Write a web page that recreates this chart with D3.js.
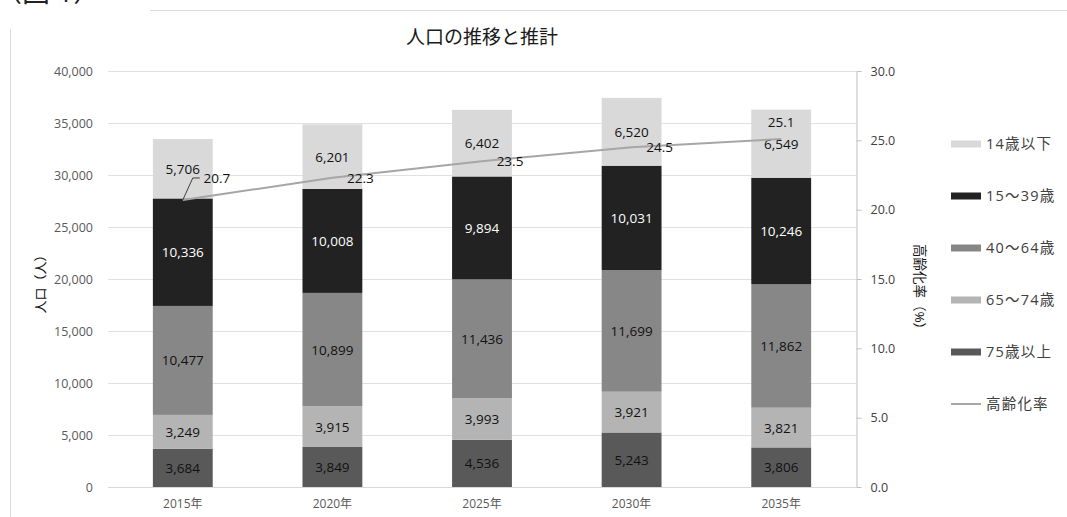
<!DOCTYPE html>
<html>
<head>
<meta charset="utf-8">
<script src="https://cdn.jsdelivr.net/npm/d3@7"></script>
<style>
  body { margin: 0; background: #fff; }
  svg text { font-family: "Open Sans", "Noto Sans CJK JP", sans-serif; }
</style>
</head>
<body>
<script>
// 人口の推移と推計 - stacked bars + 高齢化率 line
const years = ["2015年", "2020年", "2025年", "2030年", "2035年"];
const seriesNames = ["75歳以上", "65〜74歳", "40〜64歳", "15〜39歳", "14歳以下"];
const age75 = [3684, 3849, 4536, 5243, 3806];
const age65 = [3249, 3915, 3993, 3921, 3821];
const age40 = [10477, 10899, 11436, 11699, 11862];
const age15 = [10336, 10008, 9894, 10031, 10246];
const age0 = [5706, 6201, 6402, 6520, 6549];
const agingRate = [20.7, 22.3, 23.5, 24.5, 25.1];
const leftTicks = [0, 5000, 10000, 15000, 20000, 25000, 30000, 35000, 40000];
const rightTicks = [0, 5, 10, 15, 20, 25, 30];

const colors = ["#595959", "#b4b4b4", "#878787", "#222222", "#d9d9d9"];
const labelColors = ["#111", "#111", "#111", "#fff", "#111"];

const W = 1067, H = 517;
const svg = d3.select("body").append("svg").attr("width", W).attr("height", H);

// frame bits of the page around the chart
svg.append("text").attr("x", -6).attr("y", 2).attr("font-size", 28)
  .attr("font-family", "Noto Sans CJK JP").attr("fill", "#222").text("（図 1）");
svg.append("line").attr("x1", 150).attr("x2", W).attr("y1", 10.5).attr("y2", 10.5)
  .attr("stroke", "#d9d9d9");
svg.append("line").attr("x1", 10.5).attr("x2", 10.5).attr("y1", 29).attr("y2", H)
  .attr("stroke", "#d9d9d9");

const pLeft = 108, pRight = 856, pTop = 71, pBottom = 487;

const x = d3.scaleBand().domain(years).range([pLeft, pRight]).paddingInner(0.6).paddingOuter(0.3);
const y = d3.scaleLinear().domain([0, 40000]).range([pBottom, pTop]);
const y2 = d3.scaleLinear().domain([0, 30]).range([pBottom, pTop]);

// gridlines
svg.append("g").selectAll("line").data(leftTicks.slice(1)).enter().append("line")
  .attr("x1", pLeft).attr("x2", pRight)
  .attr("y1", d => Math.round(y(d)) + 0.5).attr("y2", d => Math.round(y(d)) + 0.5)
  .attr("stroke", "#e0e0e0");

// left axis
const gl = svg.append("g").attr("transform", `translate(${pLeft - 12},0)`)
  .call(d3.axisLeft(y).tickValues(leftTicks).tickFormat(d3.format(",")).tickSize(0));
gl.select(".domain").remove();
gl.selectAll("text").attr("font-size", 12.5).attr("fill", "#595959")
  .attr("font-family", "Open Sans");

// right axis
const gr = svg.append("g").attr("transform", `translate(${pRight + 0.5},0)`)
  .call(d3.axisRight(y2).tickValues(rightTicks).tickFormat(d3.format(".1f")).tickSize(5).tickSizeOuter(0));
gr.select(".domain").attr("stroke", "#bfbfbf");
gr.selectAll(".tick line").attr("stroke", "#bfbfbf");
gr.selectAll("text").attr("font-size", 12.5).attr("fill", "#404040")
  .attr("x", 14).attr("font-family", "Open Sans");

// stacked bars
const rows = years.map((yr, i) => ({
  year: yr, s0: age75[i], s1: age65[i], s2: age40[i], s3: age15[i], s4: age0[i]
}));
const stack = d3.stack().keys(["s0", "s1", "s2", "s3", "s4"])(rows);

const layers = svg.append("g").selectAll("g").data(stack).enter().append("g")
  .attr("fill", (d, i) => colors[i]);
layers.selectAll("rect").data(d => d).enter().append("rect")
  .attr("x", d => x(d.data.year))
  .attr("width", x.bandwidth())
  .attr("y", d => y(d[1]))
  .attr("height", d => y(d[0]) - y(d[1]));

layers.each(function(layer, li) {
  d3.select(this).selectAll("text").data(layer).enter().append("text")
    .attr("x", d => x(d.data.year) + x.bandwidth() / 2)
    .attr("y", d => (y(d[0]) + y(d[1])) / 2 + 5)
    .attr("text-anchor", "middle")
    .attr("font-size", 13.5)
    .attr("fill", labelColors[li])
    .text(d => d3.format(",")(d[1] - d[0]));
});

// 高齢化率 line
const cx = i => x(years[i]) + x.bandwidth() / 2;
svg.append("path")
  .datum(agingRate)
  .attr("d", d3.line().x((d, i) => cx(i)).y(d => y2(d)))
  .attr("fill", "none").attr("stroke", "#a6a6a6").attr("stroke-width", 2);

// rate labels (offsets as placed in the original)
const rateOffsets = [[34, -22], [28, 0], [28, 0], [28, 0], [0, -17]];
svg.append("path")
  .attr("d", `M${cx(0)},${y2(agingRate[0])} L${cx(0) + 10},${y2(agingRate[0]) - 22} L${cx(0) + 17},${y2(agingRate[0]) - 22}`)
  .attr("fill", "none").attr("stroke", "#404040").attr("stroke-width", 1);
svg.append("g").selectAll("text").data(agingRate).enter().append("text")
  .attr("x", (d, i) => cx(i) + rateOffsets[i][0])
  .attr("y", (d, i) => y2(d) + rateOffsets[i][1] + 5)
  .attr("text-anchor", "middle")
  .attr("font-size", 13.5).attr("fill", "#111")
  .text(d => d.toFixed(1));

// x axis
svg.append("line").attr("x1", pLeft).attr("x2", pRight)
  .attr("y1", pBottom + 0.5).attr("y2", pBottom + 0.5).attr("stroke", "#d9d9d9");
svg.append("g").selectAll("text").data(years).enter().append("text")
  .attr("x", d => x(d) + x.bandwidth() / 2)
  .attr("y", 508)
  .attr("text-anchor", "middle")
  .attr("font-size", 12).attr("fill", "#595959")
  .text(d => d);

// title
svg.append("text").attr("x", 482).attr("y", 44).attr("text-anchor", "middle")
  .attr("font-size", 19).attr("font-weight", 400).attr("font-family", "Noto Sans CJK JP")
  .attr("fill", "#1a1a1a").text("人口の推移と推計");

// axis titles
svg.append("text").attr("transform", "translate(45,281) rotate(-90)")
  .attr("text-anchor", "middle").attr("font-size", 13)
  .attr("font-family", "Noto Sans CJK JP").attr("fill", "#111").text("人口（人）");
svg.append("text").attr("transform", "translate(915,290) rotate(90)")
  .attr("text-anchor", "middle").attr("font-size", 13.5)
  .attr("font-family", "Noto Sans CJK JP").attr("fill", "#111").text("高齢化率（%）");

// legend
const legendItems = [4, 3, 2, 1, 0];
const leg = svg.append("g");
legendItems.forEach((si, k) => {
  const ly = 144 + k * 52;
  leg.append("rect").attr("x", 951).attr("y", ly - 3.5).attr("width", 30).attr("height", 7)
    .attr("fill", colors[si]);
  leg.append("text").attr("x", 986).attr("y", ly + 5).attr("font-size", 14.5)
    .attr("letter-spacing", 1.2)
    .attr("font-family", "Noto Sans CJK JP").attr("fill", "#404040").text(seriesNames[si]);
});
leg.append("line").attr("x1", 951).attr("x2", 981).attr("y1", 404).attr("y2", 404)
  .attr("stroke", "#a6a6a6").attr("stroke-width", 2);
leg.append("text").attr("x", 986).attr("y", 409).attr("font-size", 14.5)
  .attr("letter-spacing", 1.2)
  .attr("font-family", "Noto Sans CJK JP").attr("fill", "#404040").text("高齢化率");
</script>
</body>
</html>
